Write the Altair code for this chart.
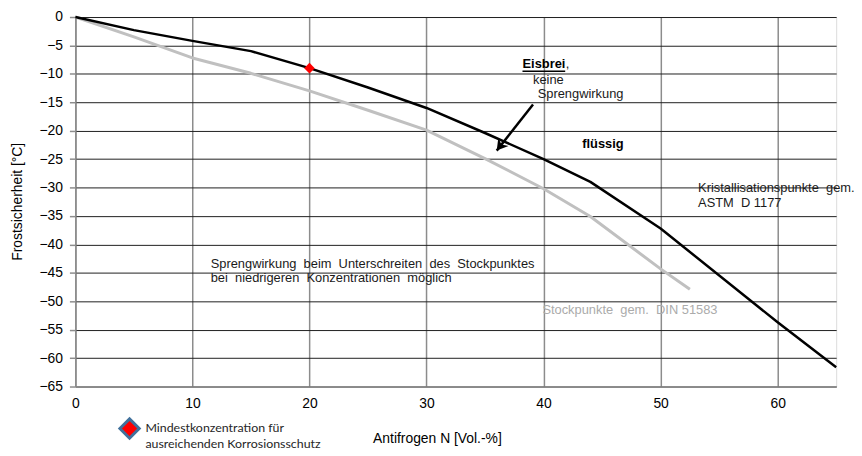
import altair as alt
import pandas as pd

# ---- data ----
crys_x = [0, 5, 10, 15, 20, 25, 30, 35, 40, 44, 50, 60, 65]
crys_y = [0, -2.3, -4.2, -6.0, -9.0, -12.4, -16.0, -20.4, -25.0, -29.0, -37.2, -53.7, -61.6]

stock_x = [0, 5, 10, 15, 20, 25, 30, 35, 40, 44, 50, 52.5]
stock_y = [0, -3.5, -7.2, -9.9, -13.0, -16.4, -19.9, -24.9, -30.2, -35.1, -44.3, -47.9]

min_x = [20]
min_y = [-9]

x_ticks = [0, 10, 20, 30, 40, 50, 60]
y_ticks = list(range(-65, 1, 5))

legend_label = "Mindestkonzentration für\nausreichenden Korrosionsschutz"

# ---- annotation placement (data units) ----
ann_regular = pd.DataFrame({
    "x": [41.9, 39.1, 39.5, 53.2, 53.2, 11.56, 11.56],
    "y": [-8.3, -11.0, -13.6, -30.0, -32.8, -43.4, -46.0],
    "t": [",", "keine", "Sprengwirkung",
          "Kristallisationspunkte\u00a0 gem.", "ASTM\u00a0 D 1177",
          "Sprengwirkung\u00a0 beim\u00a0 Unterschreiten\u00a0 des\u00a0 Stockpunktes",
          "bei\u00a0 niedrigeren\u00a0 Konzentrationen\u00a0 möglich"],
})
ann_bold = pd.DataFrame({"x": [38.2, 43.3], "y": [-8.3, -22.3], "t": ["Eisbrei", "flüssig"]})
ann_gray = pd.DataFrame({"x": [39.9], "y": [-51.6], "t": ["Stockpunkte\u00a0 gem.\u00a0 DIN 51583"]})
underline = pd.DataFrame({"x": [38.2], "x2": [41.85], "y": [-9.55]})
arrow = pd.DataFrame({"x": [39.1], "y": [-15.4], "x2": [36.0], "y2": [-23.5]})

crys = pd.DataFrame({"x": crys_x, "y": crys_y})
stock = pd.DataFrame({"x": stock_x, "y": stock_y})
mins = pd.DataFrame({"x": min_x, "y": min_y})
leg = pd.DataFrame({"t": [legend_label]})

FONT = "Liberation Sans"
xs = alt.Scale(domain=[0, 65], nice=False, zero=False)
ys = alt.Scale(domain=[-65, 0], nice=False, zero=False)

x_axis = alt.Axis(values=x_ticks, grid=True, gridColor="#8c8c8c", gridWidth=1.5,
                  ticks=False, labelPadding=10, labelFlush=False,
                  domainColor="#8c8c8c", domainWidth=1.5,
                  labelFont=FONT, labelFontSize=14, labelColor="#000",
                  title="Antifrogen N [Vol.-%]", titleFont=FONT, titleFontSize=14,
                  titleFontWeight="normal", titleColor="#000",
                  titleX=365, titleY=52, titleBaseline="middle", titleAlign="center")
y_axis = alt.Axis(values=y_ticks, grid=True, gridColor="#1e1e1e", gridWidth=1,
                  tickSize=6, tickColor="#8c8c8c", tickWidth=1.5, labelPadding=7,
                  labelFlush=False, domainColor="#8c8c8c", domainWidth=1.5,
                  labelFont=FONT, labelFontSize=14, labelColor="#000",
                  title="Frostsicherheit [°C]", titleFont=FONT, titleFontSize=14,
                  titleFontWeight="normal", titleColor="#000",
                  titleX=-58, titleY=186, titleAngle=270,
                  titleBaseline="middle", titleAlign="center")


def X(f="x"):
    return alt.X(f"{f}:Q", scale=xs, axis=x_axis)


def Y(f="y"):
    return alt.Y(f"{f}:Q", scale=ys, axis=y_axis)


stock_line = alt.Chart(stock).mark_line(color="#c0c0c0", strokeWidth=3,
                                        strokeJoin="round").encode(x=X(), y=Y())
crys_line = alt.Chart(crys).mark_line(color="#000000", strokeWidth=2.5,
                                      strokeJoin="round").encode(x=X(), y=Y())
min_pt = alt.Chart(mins).mark_point(shape="diamond", filled=True, color="#ff0000",
                                    size=115, opacity=1).encode(x=X(), y=Y())


def txt(df, **kw):
    return alt.Chart(df).mark_text(align="left", baseline="middle", font=FONT,
                                   fontSize=13, **kw).encode(x=X(), y=Y(), text="t:N")


t_reg = txt(ann_regular, color="#1a1a1a")
t_bold = txt(ann_bold, color="#000", fontWeight="bold")
t_gray = txt(ann_gray, color="#ababab")

ul = alt.Chart(underline).mark_rule(color="#000", strokeWidth=1.5).encode(
    x=X(), x2="x2:Q", y=Y())
arrow_line = alt.Chart(arrow).mark_rule(color="#000", strokeWidth=2.5).encode(
    x=X(), x2="x2:Q", y=Y(), y2="y2:Q")
arrow_head = alt.Chart(arrow).mark_point(
    shape="M0,0 L-0.6,-1 L0,-0.72 L0.6,-1 Z", filled=True, color="#000",
    size=480, angle=38, opacity=1, strokeWidth=1).encode(x=X("x2"), y=Y("y2"))

leg_pt = alt.Chart(leg).mark_point(shape="diamond", filled=True, fill="#ff0000",
                                   stroke="#41719c", strokeWidth=3, size=380,
                                   opacity=1).encode(
    x=alt.value(54.7), y=alt.value(415.4))
leg_txt = alt.Chart(leg).mark_text(align="left", baseline="top", font="Lato",
                                   fontSize=12.5, color="#262626", lineBreak="\n",
                                   lineHeight=16.3).encode(
    x=alt.value(70.7), y=alt.value(408.5), text="t:N")

chart = alt.layer(
    stock_line, crys_line, min_pt, t_reg, t_bold, t_gray, ul,
    arrow_line, arrow_head, leg_pt, leg_txt,
).properties(
    width=768, height=373,
    autosize=alt.AutoSizeParams(type="none"),
    padding={"left": 68, "top": 7, "right": 18, "bottom": 66},
).configure_view(stroke=None).configure(background="white")

chart.save("out.html", embed_options={"renderer": "svg", "actions": False})
